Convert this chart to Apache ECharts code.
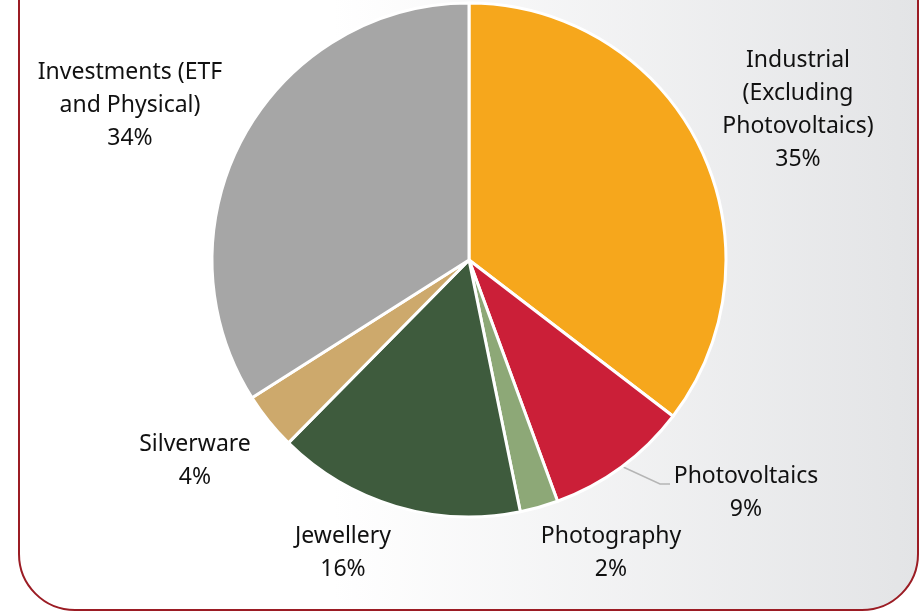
<!DOCTYPE html>
<html lang="en" style="height: 100%">
<head>
  <meta charset="utf-8">
</head>
<body style="height: 100%; margin: 0">
  <div id="container" style="height: 100%"></div>

  <script type="text/javascript" src="https://cdn.jsdelivr.net/npm/echarts@6/dist/echarts.min.js"></script>

  <script type="text/javascript">
    // silver demand by sector, percent (labels show rounded values)
    var categories = [
      'Industrial\n(Excluding\nPhotovoltaics)',
      'Photovoltaics',
      'Photography',
      'Jewellery',
      'Silverware',
      'Investments (ETF\nand Physical)'
    ];
    var shares = [35.4, 9.0, 2.4, 15.6, 3.6, 34.0];
    var colors = ['#F6A71C', '#CB1F38', '#8DA877', '#3E5B3D', '#CDA96C', '#A6A6A6'];

    // label anchor points (centre of each text block)
    var labelSpots = [
      [798, 110],
      [746, 493],
      [611, 553],
      [343, 553],
      [195, 461],
      [130, 105]
    ];

    var dom = document.getElementById('container');
    var myChart = echarts.init(dom, null, { renderer: 'canvas' });

    var pieData = categories.map(function (name, i) {
      var item = {
        name: name,
        value: shares[i],
        itemStyle: { color: colors[i] }
      };
      if (i === 1) {
        item.labelLine = {
          show: true,
          lineStyle: { color: '#b5b5b5', width: 1.5 }
        };
      }
      return item;
    });

    var option = {
      animation: false,
      graphic: [
        {
          type: 'rect',
          z: -10,
          shape: { x: 19, y: -80, width: 899, height: 690, r: 56 },
          style: {
            fill: {
              type: 'linear', x: 0, y: 0, x2: 1, y2: 0,
              colorStops: [
                { offset: 0, color: '#ffffff' },
                { offset: 0.35, color: '#ffffff' },
                { offset: 1, color: '#e3e4e6' }
              ]
            },
            stroke: '#9B1C24',
            lineWidth: 2
          }
        }
      ],
      series: [
        {
          type: 'pie',
          center: [469, 260],
          radius: [0, 257],
          startAngle: 90,
          clockwise: true,
          itemStyle: { borderColor: '#ffffff', borderWidth: 3 },
          label: {
            show: true,
            formatter: function (p) {
              return p.name + '\n' + Math.round(p.value) + '%';
            },
            fontFamily: 'Noto Sans',
            fontSize: 23,
            lineHeight: 33,
            color: '#111111',
            align: 'center'
          },
          labelLine: { show: false },
          labelLayout: function (params) {
            var p = labelSpots[params.dataIndex];
            var out = {
              x: p[0],
              y: p[1],
              align: 'center',
              verticalAlign: 'middle'
            };
            if (params.dataIndex === 1) {
              out.labelLinePoints = [[621, 466], [660, 484], [670, 484]];
            }
            return out;
          },
          data: pieData
        }
      ]
    };

    myChart.setOption(option);
    window.addEventListener('resize', myChart.resize);
  </script>
</body>
</html>
